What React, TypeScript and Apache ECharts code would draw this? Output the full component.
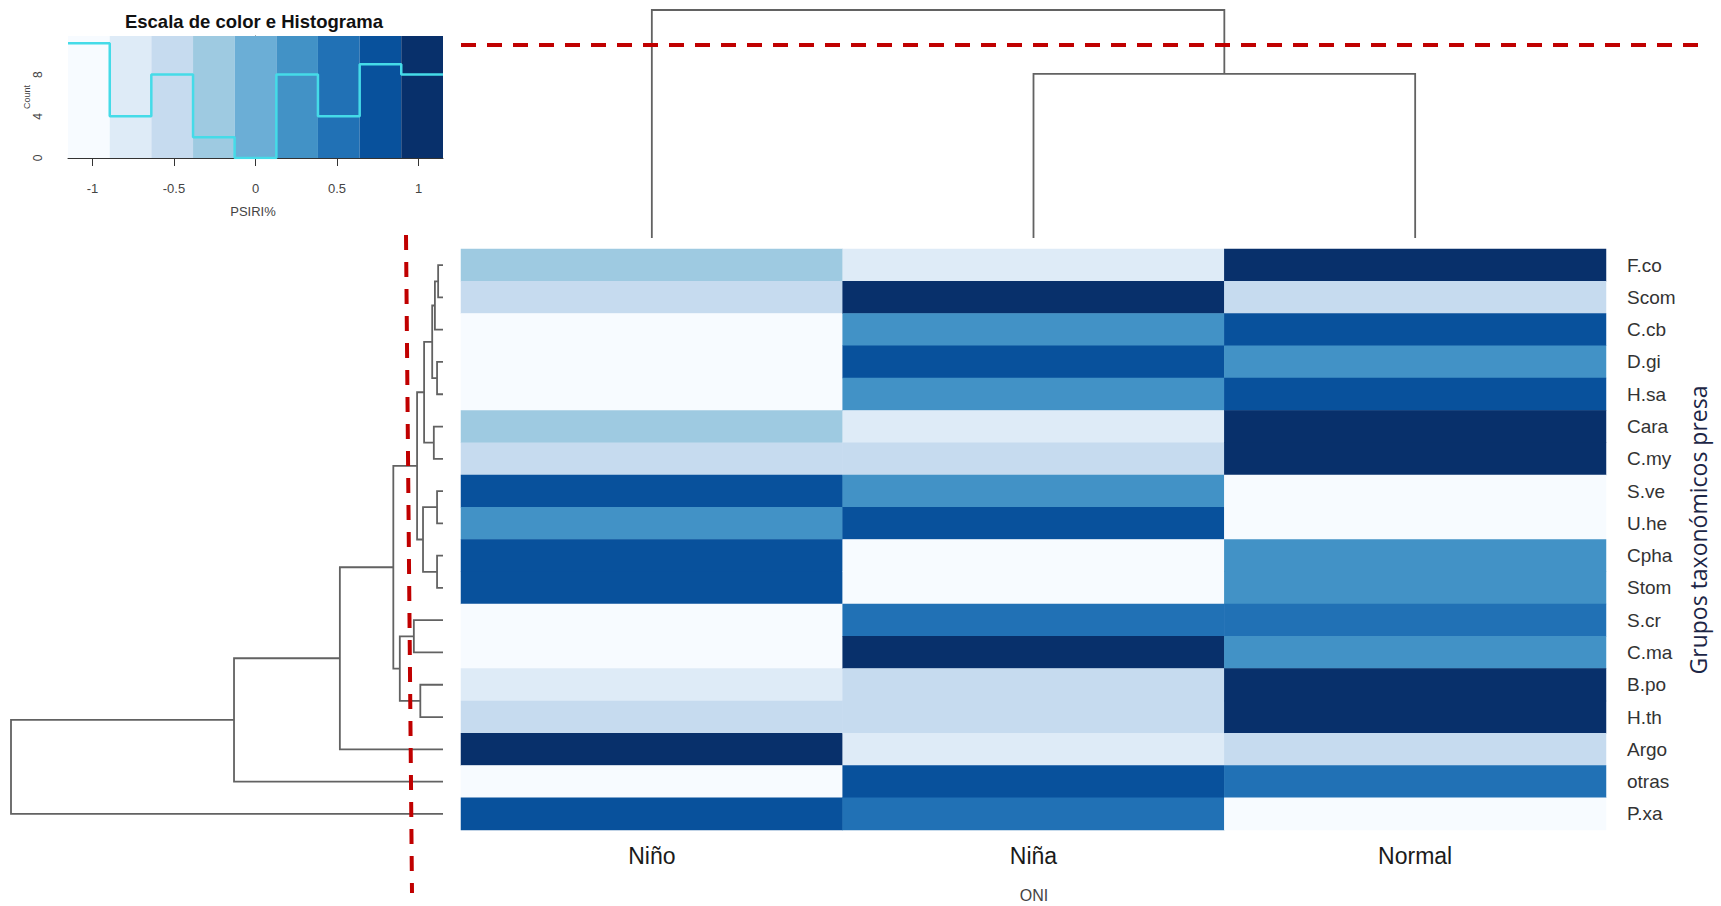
import React, { useEffect, useRef } from "react";
import * as echarts from "echarts";

// ---- data -------------------------------------------------------------
const columns = ["Niño", "Niña", "Normal"];
const rows = [
  "F.co", "Scom", "C.cb", "D.gi", "H.sa", "Cara", "C.my", "S.ve", "U.he",
  "Cpha", "Stom", "S.cr", "C.ma", "B.po", "H.th", "Argo", "otras", "P.xa",
];

// Row-scaled PSIRI% per prey group, one array per ONI phase (same order as rows)
const nino = [-0.3, -0.575, -1.12, -1.12, -1.12, -0.3, -0.575, 0.79, 0.33, 0.8, 0.78, -1.15, -1.06, -0.72, -0.575, 1.14, -1.15, 0.65];
const nina = [-0.82, 1.15, 0.33, 0.79, 0.33, -0.82, -0.575, 0.33, 0.79, -1.12, -1.13, 0.575, 0.91, -0.42, -0.575, -0.7, 0.65, 0.5];
const normal = [1.12, -0.575, 0.79, 0.33, 0.79, 1.12, 1.15, -1.12, -1.12, 0.32, 0.35, 0.575, 0.15, 1.14, 1.15, -0.44, 0.5, -1.15];

// colour key
const breaks = [-1.15, -0.894, -0.639, -0.383, -0.128, 0.128, 0.383, 0.639, 0.894, 1.15];
const blues = ["#F7FBFF", "#DEEBF7", "#C6DBEF", "#9ECAE1", "#6BAED6", "#4292C6", "#2171B5", "#08519C", "#08306B"];
const keyTicks = [-1, -0.5, 0, 0.5, 1];
const countTicks = [0, 2, 4, 6, 8, 10];
const countLabels = [0, 4, 8];
const countMax = 11.7;

// row clustering: [childA, childB, height]; strings are leaves, numbers are earlier merges
const rowMerges: [string | number, string | number, number][] = [
  ["F.co", "Scom", 0.045],
  [0, "C.cb", 0.075],
  ["D.gi", "H.sa", 0.055],
  [1, 2, 0.1],
  ["Cara", "C.my", 0.085],
  [3, 4, 0.175],
  ["S.ve", "U.he", 0.055],
  ["Cpha", "Stom", 0.055],
  [6, 7, 0.185],
  [5, 8, 0.24],
  ["S.cr", "C.ma", 0.27],
  ["B.po", "H.th", 0.21],
  [10, 11, 0.4],
  [9, 12, 0.46],
  [13, "Argo", 0.955],
  [14, "otras", 1.935],
  [15, "P.xa", 4.0],
];
const rowHeightMax = 4.0;

// column clustering
const colMerges: [string | number, string | number, number][] = [
  ["Niña", "Normal", 0.72],
  ["Niño", 0, 1.0],
];
const colHeightMax = 1.0;

// ---- helpers ----------------------------------------------------------
function binOf(v: number): number {
  for (let i = 0; i < breaks.length - 1; i++) {
    if (v >= breaks[i] && v < breaks[i + 1]) return i;
  }
  return v >= breaks[breaks.length - 1] ? breaks.length - 2 : 0;
}

// returns segments [posA, hA, posB, hB, h] for each merge
function dendroSegments(merges: [string | number, string | number, number][], leaves: string[]) {
  const pos: number[] = [];
  const hts: number[] = [];
  const out: number[][] = [];
  const resolve = (c: string | number): [number, number] =>
    typeof c === "string" ? [leaves.indexOf(c) + 0.5, 0] : [pos[c], hts[c]];
  merges.forEach(([a, b, h], k) => {
    const [pa, ha] = resolve(a);
    const [pb, hb] = resolve(b);
    out.push([pa, ha, pb, hb, h]);
    pos[k] = (pa + pb) / 2;
    hts[k] = h;
  });
  return out;
}

const LINE = "#626262";
const SANS = "'Liberation Sans', Arial, sans-serif";

export default function App() {
  const ref = useRef<HTMLDivElement>(null);

  useEffect(() => {
    if (!ref.current) return;
    const chart = echarts.init(ref.current, undefined, { renderer: "svg" });

    const phases = [nino, nina, normal];
    const heatData: number[][] = [];
    phases.forEach((arr, c) => arr.forEach((v, r) => heatData.push([c, r, v])));

    const counts = new Array(breaks.length - 1).fill(0);
    heatData.forEach((d) => counts[binOf(d[2])]++);
    const histLine: number[][] = counts.map((c, i) => [breaks[i], c]);
    histLine.push([breaks[breaks.length - 1], counts[counts.length - 1]]);

    const keyRects = breaks.slice(0, -1).map((b, i) => [b, breaks[i + 1], i]);

    const rowSegs = dendroSegments(rowMerges, rows);
    const colSegs = dendroSegments(colMerges, columns);

    const option: any = {
      animation: false,
      backgroundColor: "#ffffff",
      grid: [
        { left: 68, top: 36, width: 375, height: 122 },
        { left: 11, top: 249, width: 432, height: 581 },
        { left: 461, top: 10, width: 1145, height: 228 },
        { left: 461, top: 249, width: 1145, height: 581 },
      ],
      xAxis: [
        {
          type: "value", gridIndex: 0, min: breaks[0], max: breaks[breaks.length - 1],
          axisLine: { show: true, lineStyle: { color: "#333", width: 1 } },
          axisTick: { show: true, customValues: keyTicks, length: 8, lineStyle: { color: "#333" } },
          axisLabel: { customValues: keyTicks, margin: 24, fontSize: 13, color: "#444", fontFamily: SANS },
          splitLine: { show: false },
        },
        { type: "value", gridIndex: 1, min: 0, max: rowHeightMax, inverse: true, show: false },
        { type: "value", gridIndex: 2, min: 0, max: columns.length, show: false },
        {
          type: "category", gridIndex: 3, data: columns,
          axisLine: { show: false }, axisTick: { show: false },
          axisLabel: { margin: 14, fontSize: 23, color: "#1a1a1a", fontFamily: SANS },
        },
      ],
      yAxis: [
        {
          type: "value", gridIndex: 0, min: 0, max: countMax,
          axisLine: { show: true, lineStyle: { color: "#333", width: 1 } },
          axisTick: { show: true, customValues: countTicks, length: 8, lineStyle: { color: "#333" } },
          axisLabel: { customValues: countLabels, rotate: 90, margin: 24, fontSize: 12, color: "#444", fontFamily: SANS },
          splitLine: { show: false },
        },
        { type: "value", gridIndex: 1, min: 0, max: rows.length, inverse: true, show: false },
        { type: "value", gridIndex: 2, min: 0, max: colHeightMax, show: false },
        {
          type: "category", gridIndex: 3, data: rows, inverse: true, position: "right",
          axisLine: { show: false }, axisTick: { show: false },
          axisLabel: { margin: 21, fontSize: 19, color: "#333", fontFamily: SANS, align: "left", padding: [8, 0, 0, 0] },
        },
      ],
      visualMap: {
        type: "piecewise", show: false, seriesIndex: 4, dimension: 2,
        pieces: blues.map((c, i) =>
          i === blues.length - 1
            ? { gte: breaks[i], lte: breaks[i + 1] + 0.01, color: c }
            : { gte: breaks[i], lt: breaks[i + 1], color: c }
        ),
      },
      series: [
        {
          type: "custom", xAxisIndex: 0, yAxisIndex: 0, z: 1, data: keyRects,
          renderItem: (_p: any, api: any) => {
            const p0 = api.coord([api.value(0), countMax]);
            const p1 = api.coord([api.value(1), 0]);
            return {
              type: "rect",
              shape: { x: p0[0], y: p0[1], width: p1[0] - p0[0], height: p1[1] - p0[1] },
              style: { fill: blues[api.value(2)] },
            };
          },
        },
        {
          type: "line", xAxisIndex: 0, yAxisIndex: 0, z: 3, data: histLine, step: "end",
          symbol: "none", lineStyle: { color: "#45dbe8", width: 2.5 },
        },
        {
          type: "custom", xAxisIndex: 1, yAxisIndex: 1, data: rowSegs, clip: false,
          renderItem: (_p: any, api: any) => {
            const a = api.coord([api.value(1), api.value(0)]);
            const an = api.coord([api.value(4), api.value(0)]);
            const bn = api.coord([api.value(4), api.value(2)]);
            const b = api.coord([api.value(3), api.value(2)]);
            return {
              type: "polyline",
              shape: { points: [a, an, bn, b] },
              style: { stroke: LINE, lineWidth: 1.8, fill: null },
            };
          },
        },
        {
          type: "custom", xAxisIndex: 2, yAxisIndex: 2, data: colSegs, clip: false,
          renderItem: (_p: any, api: any) => {
            const a = api.coord([api.value(0), api.value(1)]);
            const an = api.coord([api.value(0), api.value(4)]);
            const bn = api.coord([api.value(2), api.value(4)]);
            const b = api.coord([api.value(2), api.value(3)]);
            return {
              type: "polyline",
              shape: { points: [a, an, bn, b] },
              style: { stroke: LINE, lineWidth: 1.8, fill: null },
            };
          },
        },
        {
          type: "heatmap", xAxisIndex: 3, yAxisIndex: 3, data: heatData,
          itemStyle: { borderWidth: 0 },
          emphasis: { disabled: true },
        },
      ],
      graphic: [
        {
          type: "text", x: 254, y: 21,
          style: { text: "Escala de color e Histograma", font: `bold 18.5px ${SANS}`, fill: "#111", align: "center", verticalAlign: "middle" },
        },
        {
          type: "text", x: 27, y: 97, rotation: Math.PI / 2,
          style: { text: "Count", font: `9px ${SANS}`, fill: "#444", align: "center", verticalAlign: "middle" },
        },
        {
          type: "text", x: 253, y: 211,
          style: { text: "PSIRI%", font: `13px ${SANS}`, fill: "#444", align: "center", verticalAlign: "middle" },
        },
        {
          type: "text", x: 1034, y: 895,
          style: { text: "ONI", font: `16px ${SANS}`, fill: "#444", align: "center", verticalAlign: "middle" },
        },
        {
          type: "text", x: 1698, y: 530, rotation: Math.PI / 2,
          style: { text: "Grupos taxonómicos presa", font: `23px 'Open Sans', sans-serif`, fill: "#1c2646", align: "center", verticalAlign: "middle" },
        },
        {
          type: "line", z: 100,
          shape: { x1: 461, y1: 45, x2: 1703, y2: 45 },
          style: { stroke: "#c00000", lineWidth: 4, lineDash: [15, 11] },
        },
        {
          type: "line", z: 100,
          shape: { x1: 406, y1: 235, x2: 412, y2: 893 },
          style: { stroke: "#c00000", lineWidth: 4, lineDash: [15, 12] },
        },
      ],
    };

    chart.setOption(option);
    return () => chart.dispose();
  }, []);

  return (
    <div
      ref={ref}
      style={{ position: "absolute", left: 0, top: 0, width: 1721, height: 906, background: "#fff" }}
    />
  );
}
